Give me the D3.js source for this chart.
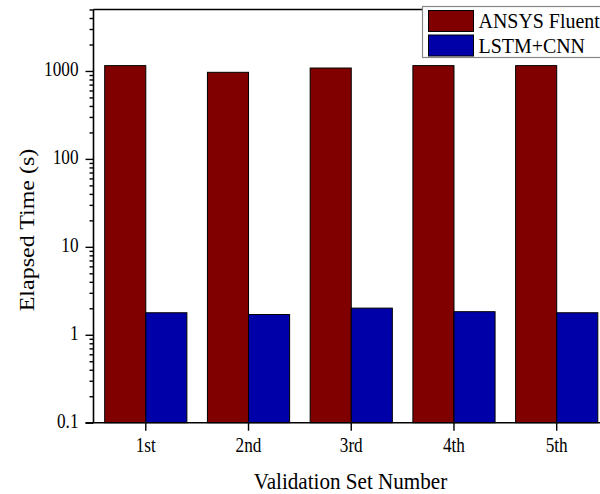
<!DOCTYPE html>
<html>
<head>
<meta charset="utf-8">
<script src="https://cdn.jsdelivr.net/npm/d3@7"></script>
<style>
  html, body { margin: 0; padding: 0; background: #fff; }
  svg { display: block; }
  svg text { font-family: "Liberation Serif", "Times New Roman", serif; fill: #000; }
</style>
</head>
<body>
<svg id="chart" width="600" height="494"></svg>
<script>
// Validation sets and elapsed times (seconds)
const categories = ["1st", "2nd", "3rd", "4th", "5th"];
const fluentTimes = [1150, 965, 1080, 1150, 1150];
const lstmCnnTimes = [1.78, 1.70, 2.01, 1.83, 1.78];
const seriesNames = ["ANSYS Fluent", "LSTM+CNN"];
const seriesColors = ["#800000", "#0000A8"];
const yTickValues = [0.1, 1, 10, 100, 1000];

const serif = "Liberation Serif";
const narrow = 0.86;   // condensed glyph width used for axis text

const svg = d3.select("#chart");

const plotLeft = 93.5, plotRight = 609, plotTop = 9.5, plotBottom = 422.7;

const x = d3.scaleBand()
  .domain(categories)
  .range([plotLeft, plotRight])
  .paddingInner(0.2)
  .paddingOuter(0.109);

const y = d3.scaleLog()
  .domain([0.1, 5000])
  .range([plotBottom, plotTop]);

const bw = x.bandwidth() / 2;

// bars
const series = [fluentTimes, lstmCnnTimes];
series.forEach((vals, s) => {
  svg.append("g")
    .selectAll("rect")
    .data(categories.map((c, i) => ({ c, v: vals[i] })))
    .join("rect")
    .attr("x", d => x(d.c) + s * bw)
    .attr("y", d => y(d.v))
    .attr("width", bw)
    .attr("height", d => y(0.1) - y(d.v))
    .attr("fill", seriesColors[s])
    .attr("stroke", "#000")
    .attr("stroke-width", 1);
});

// minor ticks on the log axis
const minorTicks = [];
for (let e = -1; e <= 3; e++) {
  for (let m = 2; m <= 9; m++) {
    const v = m * Math.pow(10, e);
    if (v <= 5000) minorTicks.push(v);
  }
}

const yMinor = svg.append("g")
  .attr("transform", `translate(${plotLeft},0)`)
  .call(d3.axisLeft(y).tickValues(minorTicks).tickSize(4).tickFormat(""));
yMinor.select(".domain").remove();

const yMajor = svg.append("g")
  .attr("transform", `translate(${plotLeft},0)`)
  .call(d3.axisLeft(y).tickValues(yTickValues).tickSize(8)
    .tickFormat(d => d3.format("~g")(d)));
yMajor.select(".domain").attr("stroke-width", 1.6).attr("d", `M0,${plotBottom}V${plotTop}`);
yMajor.selectAll("text")
  .attr("font-size", 20).attr("font-family", serif)
  .attr("x", 0).attr("dy", "0.3em")
  .attr("transform", `translate(-15,-1.5) scale(${narrow},1)`);
svg.selectAll(".tick line").attr("stroke-width", 1.4);

// x axis
const xAxis = svg.append("g")
  .attr("transform", `translate(0,${plotBottom})`)
  .call(d3.axisBottom(x).tickSize(8).tickSizeOuter(0));
xAxis.select(".domain").attr("stroke-width", 1.6).attr("d", `M${plotLeft - 8},0H${plotRight}`);
xAxis.selectAll(".tick line").attr("stroke-width", 1.4);
xAxis.selectAll("text")
  .attr("font-size", 20).attr("font-family", serif)
  .attr("y", 0).attr("dy", 0)
  .attr("transform", `translate(0,29) scale(${narrow},1)`);

// top frame line
svg.append("line")
  .attr("x1", plotLeft).attr("x2", plotRight)
  .attr("y1", plotTop).attr("y2", plotTop)
  .attr("stroke", "#000").attr("stroke-width", 1.4);

// axis titles
svg.append("text")
  .attr("transform", `translate(350.5,489) scale(0.88,1)`)
  .attr("text-anchor", "middle")
  .attr("font-family", serif)
  .attr("font-size", 24)
  .text("Validation Set Number");

svg.append("text")
  .attr("transform", `translate(34,230) scale(0.88,1) rotate(-90)`)
  .attr("text-anchor", "middle")
  .attr("font-family", serif)
  .attr("font-size", 24)
  .text("Elapsed Time (s)");

// legend
const legend = svg.append("g");
legend.append("rect")
  .attr("x", 422.5).attr("y", 6.5)
  .attr("width", 190).attr("height", 51)
  .attr("fill", "#fff")
  .attr("stroke", "#888").attr("stroke-width", 1.2);
seriesNames.forEach((name, i) => {
  legend.append("rect")
    .attr("x", 428.5).attr("y", 10.5 + i * 24.5)
    .attr("width", 45).attr("height", 21)
    .attr("fill", seriesColors[i])
    .attr("stroke", "#000").attr("stroke-width", 1);
  legend.append("text")
    .attr("transform", `translate(478.5,${28 + i * 24.5}) scale(0.95,1)`)
    .attr("font-family", serif)
    .attr("font-size", 21)
    .text(name);
});
</script>
</body>
</html>
